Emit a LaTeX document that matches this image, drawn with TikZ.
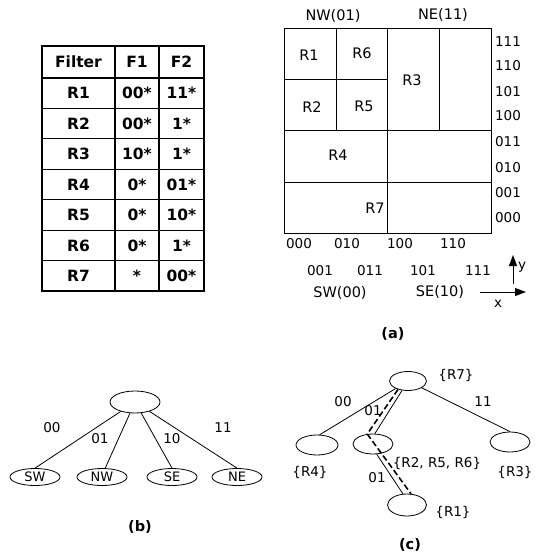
\documentclass[tikz,border=0pt]{standalone}
\usepackage{fontspec}
\setmainfont{DejaVu Sans}
\usetikzlibrary{arrows.meta,positioning,shapes.geometric}

\begin{document}
\begin{tikzpicture}[x=1pt,y=-1pt,
  cell/.style={font=\bfseries\fontsize{15.5}{16}\selectfont,inner sep=0pt},
  reg/.style={font=\fontsize{14.5}{15}\selectfont,inner sep=0pt},
  bits/.style={font=\fontsize{13.5}{14}\selectfont,inner sep=0pt},
  panel/.style={font=\bfseries\fontsize{14.5}{15}\selectfont,inner sep=0pt},
  quad/.style={draw,ellipse,line width=0.8pt,minimum width=50pt,minimum height=17pt,
               inner sep=0pt,font=\fontsize{13}{13}\selectfont},
  tnode/.style={draw,ellipse,line width=0.8pt,minimum width=40pt,minimum height=20pt,inner sep=0pt},
  lbl/.style={font=\fontsize{13.5}{14}\selectfont,inner sep=0pt},
  edge/.style={line width=0.8pt},
  trail/.style={line width=1.6pt,dash pattern=on 6pt off 3pt},
  axis/.style={line width=1pt,-{Triangle[length=11pt,width=8pt]}}
]
\useasboundingbox (0,0) rectangle (539,556);

%------ filter table ----------------------------------------------------------
\draw[line width=1.2pt] (42,46) rectangle (204,291);
\foreach \k in {0,...,6}
  \draw[line width=1.2pt] (42,{78+30.43*\k}) -- (204,{78+30.43*\k});
\draw[line width=1.2pt] (115,46) -- (115,291);
\draw[line width=1.2pt] (159,46) -- (159,291);
\node[cell] (hf) at (78.5,62) {Filter};
\node[cell] (h1) at (137,62) {F1};
\node[cell] (h2) at (181.5,62) {F2};
\foreach \r/\a/\b [count=\i] in {R1/00*/11*,R2/00*/1*,R3/10*/1*,R4/0*/01*,
                                 R5/0*/10*,R6/0*/1*,R7/*/00*}{
  \node[cell] (f\i) at (78.5,{78+30.43*(\i-0.5)}) {\r};
  \node[cell] (a\i) at (137,{78+30.43*(\i-0.5)}) {\a};
  \node[cell] (b\i) at (181.5,{78+30.43*(\i-0.5)}) {\b};
}

%------ (a) : the plane -------------------------------------------------------
\draw[line width=1pt] (284,29) rectangle (491,233);
\draw[line width=1pt] (387,29) -- (387,233);
\draw[line width=1pt] (284,131) -- (491,131);
\draw[line width=1pt] (284,182) -- (491,182);
\draw[line width=1pt] (336,29) -- (336,131);
\draw[line width=1pt] (439,29) -- (439,131);
\draw[line width=1pt] (284,80) -- (387,80);

\node[reg] (r1) at (309,55)  {R1};
\node[reg] (r6) at (362,53)  {R6};
\node[reg] (r3) at (412,80)  {R3};
\node[reg] (r2) at (312,107) {R2};
\node[reg] (r5) at (364,106) {R5};
\node[reg] (r4) at (338,155) {R4};
\node[reg] (r7) at (375,208) {R7};

\node[reg] (nw) at (333,16) {NW(01)};
\node[reg] (ne) at (443,15) {NE(11)};
\node[reg] (sw) at (340,293) {SW(00)};
\node[reg] (se) at (440,292) {SE(10)};

\foreach \v/\y in {111/42,110/66,101/92,100/116,011/142,010/168,001/193,000/218}
  \node[bits] (y\v) at (508,\y) {\v};
\foreach \v/\x in {000/299,010/347,100/400,110/453}
  \node[bits] (x\v) at (\x,244) {\v};
\foreach \v/\x in {001/320,011/370,101/423,111/478}
  \node[bits] (x\v) at (\x,271) {\v};

\coordinate (o1) at (513,284);
\coordinate (yt) at (513,255);
\coordinate (o2) at (480,292);
\coordinate (xt) at (526,292);
\draw[axis] (o1) -- (yt);
\draw[axis] (o2) -- (xt);
\node[bits] (ylab) at (522,267) {y};
\node[bits] (xlab) at (498,304) {x};

\node[panel] (pa) at (393,334) {(a)};

%------ (b) : quadrant tree ---------------------------------------------------
\node[quad,minimum width=50pt,minimum height=22pt] (root) at (135,402) {};
\node[quad] (qsw) at (35,477)  {SW};
\node[quad] (qnw) at (102,477) {NW};
\node[quad] (qse) at (172,477) {SE};
\node[quad] (qne) at (237,477) {NE};
\draw[edge] (root) -- (qsw.north);
\draw[edge] (root) -- (qnw.70);
\draw[edge] (root) -- (qse.north);
\draw[edge] (root) -- (qne.north);
\node[lbl] (l00) at (52,428)  {00};
\node[lbl] (l01) at (100,439) {01};
\node[lbl] (l10) at (172,439) {10};
\node[lbl] (l11) at (223,428) {11};
\node[panel] (pb) at (140,527) {(b)};

%------ (c) : filter tree -----------------------------------------------------
\node[tnode,minimum width=37pt,minimum height=19pt] (rt) at (408,381) {};
\node[tnode,minimum width=42pt] (t4) at (317,445) {};
\node[tnode] (tm) at (373,444) {};
\node[tnode] (t3) at (510,442) {};
\node[tnode,minimum width=39pt,minimum height=22pt] (t1) at (407,505) {};
\draw[edge] (rt) -- (t4.75);
\draw[edge] (rt) -- (tm.80);
\draw[edge] (rt) -- (t3.north);
\draw[edge] (tm.-70) -- (t1.110);
\draw[trail] (rt.-140) -- (tm.120) -- (t1.70);
\node[lbl] (c00) at (343,402) {00};
\node[lbl] (c01) at (373,411) {01};
\node[lbl] (c11) at (483,402) {11};
\node[lbl] (d01) at (377,478) {01};
\node[lbl] (s7) at (456,375) {\{R7\}};
\node[lbl] (s4) at (310,472) {\{R4\}};
\node[lbl] (sm) at (437,463) {\{R2, R5, R6\}};
\node[lbl] (s3) at (515,472) {\{R3\}};
\node[lbl] (s1) at (453,512) {\{R1\}};
\node[panel] (pc) at (410,545) {(c)};
\end{tikzpicture}
\end{document}
